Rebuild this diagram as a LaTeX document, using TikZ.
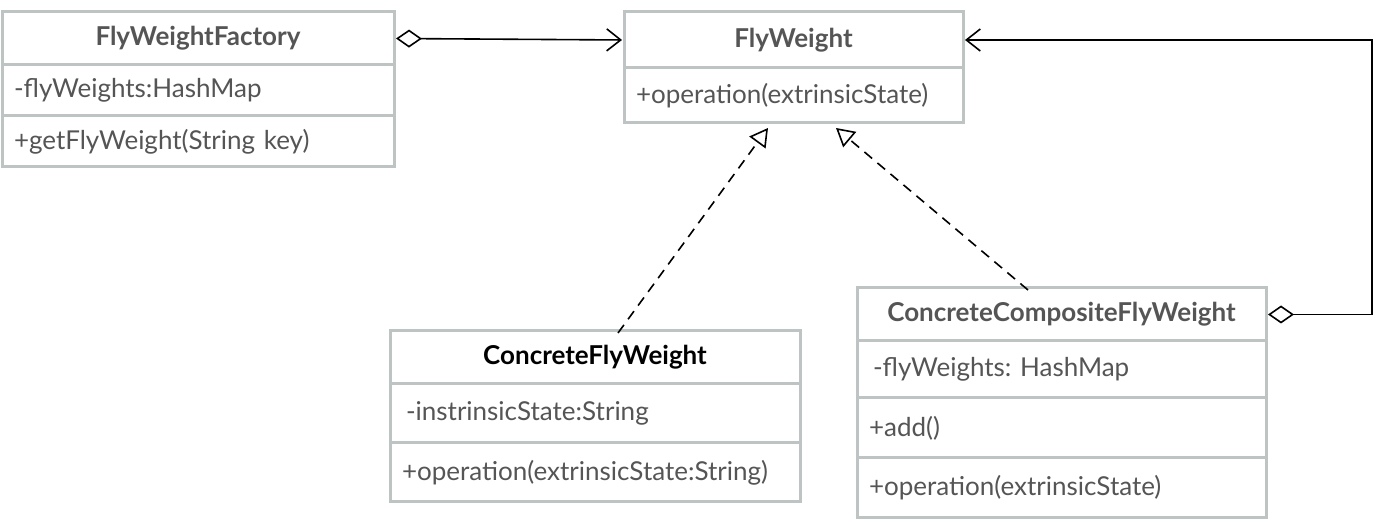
\documentclass[tikz,border=0pt]{standalone}
\usepackage{fontspec}
\setmainfont{Lato}
\usepackage{xcolor}
\usepackage{tikz}
\usetikzlibrary{arrows.meta, positioning}
\frenchspacing

\definecolor{boxgray}{HTML}{BEC3C3}
\definecolor{txtgray}{HTML}{555555}

\tikzset{
    umlbox/.style={draw=boxgray, line width=1.5pt, fill=white, inner xsep=6pt, inner ysep=0pt, outer sep=0pt,
        text=txtgray, font=\fontsize{13}{15}\selectfont},
    umltitle/.style={umlbox, align=center, font=\fontsize{13}{15}\selectfont\bfseries},
    umlrow/.style={umlbox, align=left},
    agg/.style={draw=black, line width=0.8pt, {Diamond[open, length=13pt, width=9pt]}-{Straight Barb[length=7pt, width=11pt]}},
    realize/.style={draw=black, line width=0.8pt, dashed, dash pattern=on 5pt off 3.5pt, -{Triangle[open, length=9pt, width=10pt]}}
}

\begin{document}
\begin{tikzpicture}[x=0.5pt, y=-0.5pt]
    \useasboundingbox (0,0) rectangle (1380,522);

    % FlyWeightFactory
    \node[umltitle, anchor=north west, minimum width=196pt, text width=184pt, minimum height=26.5pt]
        (factory) at (2,12) {FlyWeightFactory};
    \node[umlrow, below=0pt of factory, minimum width=196pt, text width=184pt, minimum height=25.5pt]
        (factory-attr) {-flyWeights:HashMap};
    \node[umlrow, below=0pt of factory-attr, minimum width=196pt, text width=184pt, minimum height=25.5pt]
        (factory-op) {+getFlyWeight(String key)};

    % FlyWeight
    \node[umltitle, anchor=north west, minimum width=169.5pt, text width=157.5pt, minimum height=28pt]
        (flyweight) at (624,12) {FlyWeight};
    \node[umlrow, below=0pt of flyweight, minimum width=169.5pt, text width=157.5pt, minimum height=27.5pt]
        (flyweight-op) {+operation(extrinsicState)};

    % ConcreteFlyWeight
    \node[umltitle, anchor=north west, minimum width=205pt, text width=193pt, minimum height=26.5pt, text=black]
        (concrete) at (390,331) {ConcreteFlyWeight};
    \node[umlrow, below=0pt of concrete, minimum width=205pt, text width=193pt, minimum height=29.5pt]
        (concrete-attr) {\hspace{2pt}-instrinsicState:String};
    \node[umlrow, below=0pt of concrete-attr, minimum width=205pt, text width=193pt, minimum height=29.5pt]
        (concrete-op) {+operation(extrinsicState:String)};

    % ConcreteCompositeFlyWeight
    \node[umltitle, anchor=north west, minimum width=204.5pt, text width=192.5pt, minimum height=26.5pt]
        (composite) at (857,288) {ConcreteCompositeFlyWeight};
    \node[umlrow, below=0pt of composite, minimum width=204.5pt, text width=192.5pt, minimum height=28.5pt]
        (composite-attr) {\hspace{2pt}-flyWeights: HashMap};
    \node[umlrow, below=0pt of composite-attr, minimum width=204.5pt, text width=192.5pt, minimum height=30pt]
        (composite-add) {+add()};
    \node[umlrow, below=0pt of composite-add, minimum width=204.5pt, text width=192.5pt, minimum height=30pt]
        (composite-op) {+operation(extrinsicState)};

    % Aggregation
    \draw[agg, shorten <=1pt, shorten >=1pt] (factory.east) -- (flyweight.west);
    \draw[agg, shorten <=1pt, shorten >=1pt] (composite.east) -- ++(53pt,0) |- (flyweight.east);

    % Realization
    \draw[realize] ([xshift=11.5pt, yshift=-1pt]concrete.north) -- ([xshift=-12.75pt, yshift=-2.5pt]flyweight-op.south);
    \draw[realize] ([xshift=-16.75pt, yshift=-1pt]composite.north) -- ([xshift=21.25pt, yshift=-2.5pt]flyweight-op.south);

\end{tikzpicture}
\end{document}
